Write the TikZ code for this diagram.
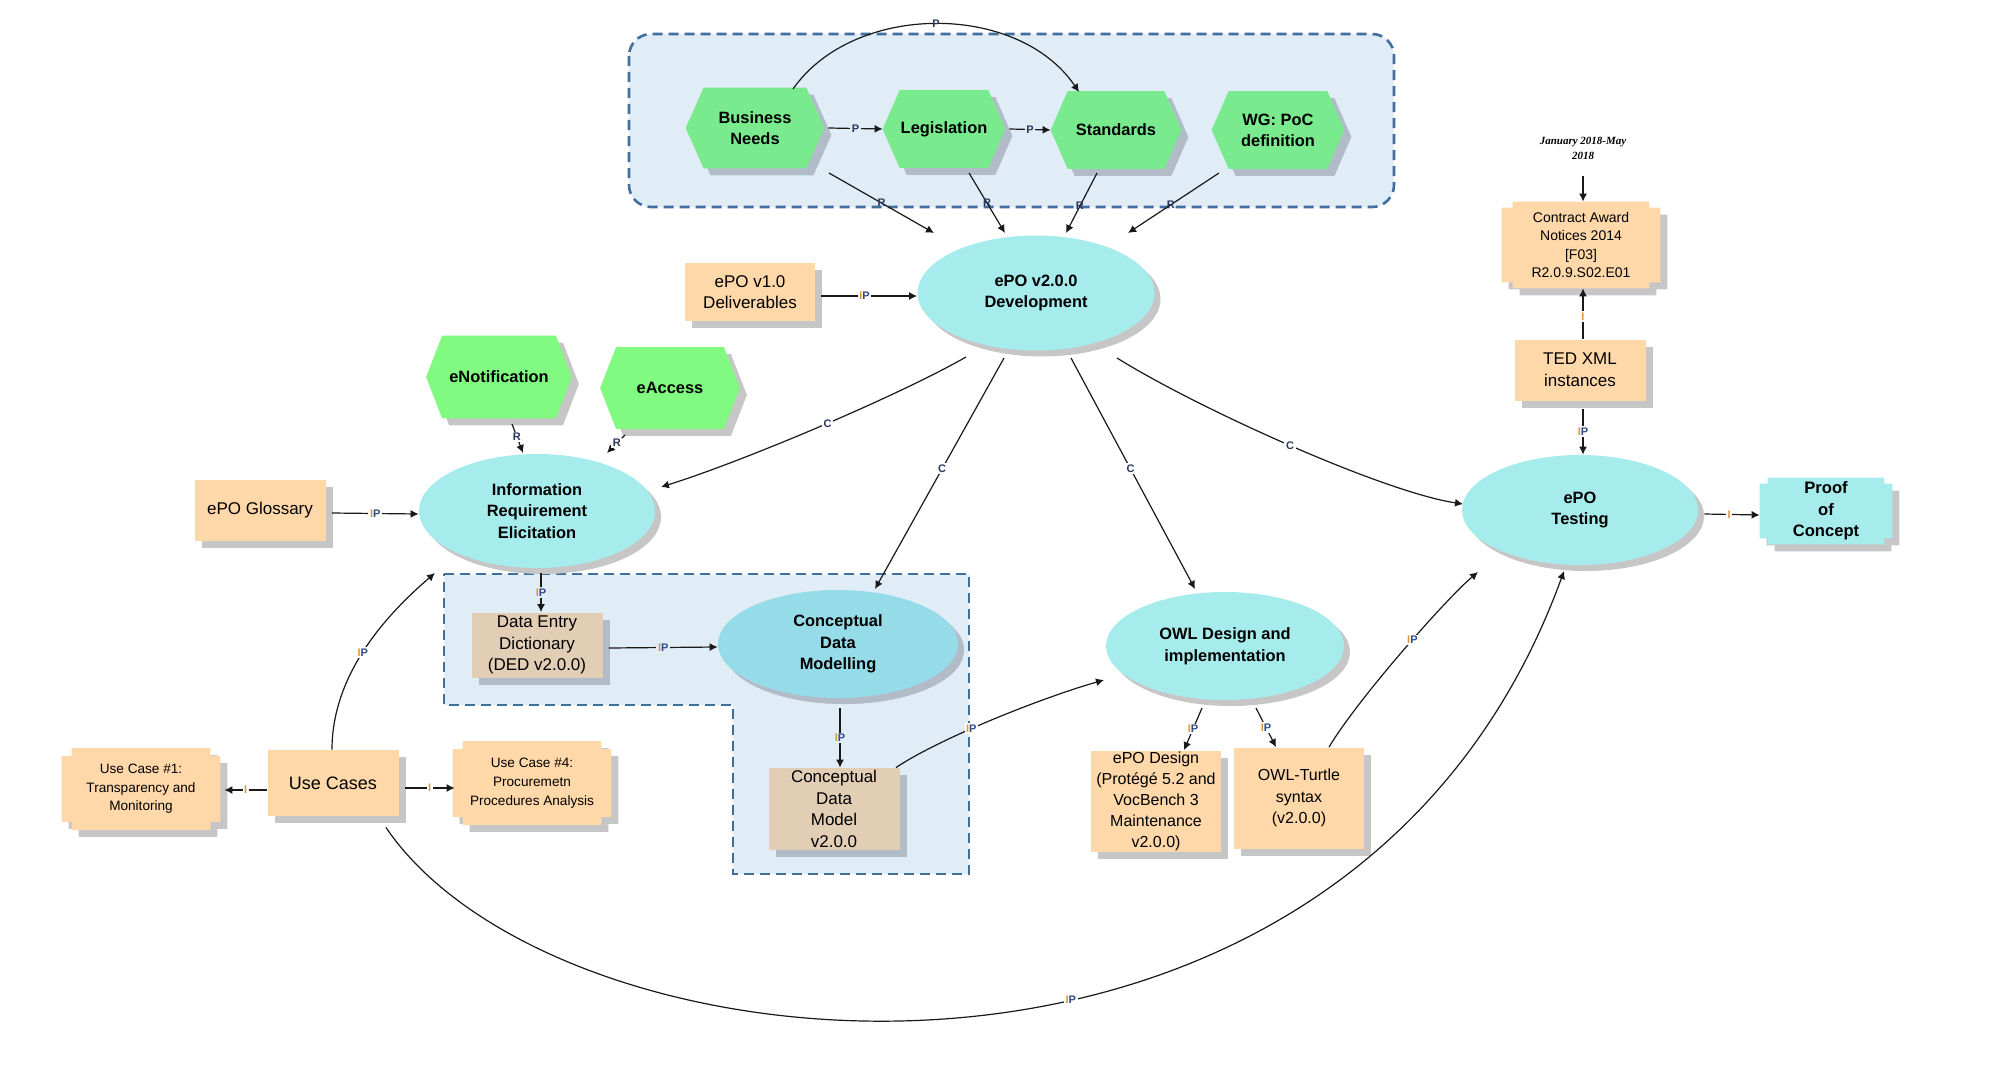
\documentclass[tikz,border=0pt]{standalone}
\usepackage{fontspec}
\setmainfont{Liberation Sans}
\newfontfamily\serifface{Liberation Serif}
\usetikzlibrary{calc,shapes.geometric,shadows,arrows.meta}
\pgfdeclarelayer{regionlayer}
\pgfdeclarelayer{shapelayer}
\pgfsetlayers{regionlayer,shapelayer,main}

\definecolor{hexgreen}{RGB}{122,234,142}
\definecolor{hexgreenB}{RGB}{128,250,128}
\definecolor{cyanfill}{RGB}{166,236,236}
\definecolor{cyandark}{RGB}{150,220,232}
\definecolor{peach}{RGB}{255,216,170}
\definecolor{tanfill}{RGB}{226,206,180}
\definecolor{regionfill}{RGB}{224,237,247}
\definecolor{regionline}{RGB}{66,110,158}
\definecolor{shgray}{RGB}{198,198,198}
\definecolor{shblue}{RGB}{178,188,200}
\definecolor{lblI}{RGB}{225,150,60}
\definecolor{lblP}{RGB}{45,75,135}
\definecolor{lbldark}{RGB}{40,55,90}
\definecolor{linecol}{RGB}{25,25,25}

\newcommand\IPlbl{\textcolor{lblI}{I}\textcolor{lblP}{P}}

% hexagon fill: name, colour, dx, dy, tip
\newcommand\hexfill[5]{%
  \fill[#2] let \p1=(#1.north west), \p2=(#1.south east), \p3=(#1.west), \p4=(#1.east) in
   ({\x1+#5+(#3)},{\y1+(#4)}) -- ({\x2-#5+(#3)},{\y1+(#4)}) -- ({\x4+(#3)},{\y4+(#4)}) --
   ({\x2-#5+(#3)},{\y2+(#4)}) -- ({\x1+#5+(#3)},{\y2+(#4)}) -- ({\x3+(#3)},{\y3+(#4)}) -- cycle;}
% notched box fill: name, colour, dx, dy, a, b
\newcommand\notchfill[6]{%
  \fill[#2] let \p1=(#1.north west), \p2=(#1.south east) in
   ({\x1+#5+(#3)},{\y1+(#4)}) -- ({\x2-#5+(#3)},{\y1+(#4)}) -- ({\x2-#5+(#3)},{\y1-#6+(#4)}) --
   ({\x2+(#3)},{\y1-#6+(#4)}) -- ({\x2+(#3)},{\y2+#6+(#4)}) -- ({\x2-#5+(#3)},{\y2+#6+(#4)}) --
   ({\x2-#5+(#3)},{\y2+(#4)}) -- ({\x1+#5+(#3)},{\y2+(#4)}) -- ({\x1+#5+(#3)},{\y2+#6+(#4)}) --
   ({\x1+(#3)},{\y2+#6+(#4)}) -- ({\x1+(#3)},{\y1-#6+(#4)}) -- ({\x1+#5+(#3)},{\y1-#6+(#4)}) -- cycle;}

\tikzset{
  hexnode/.style={rectangle, inner sep=0pt, align=center, font=\fontsize{8.2}{10.4}\selectfont\bfseries},
  ellnode/.style={ellipse, fill=cyanfill, inner sep=0pt, align=center,
     font=\fontsize{8.2}{10.8}\selectfont\bfseries,
     drop shadow={shadow xshift=3pt, shadow yshift=-3pt, fill=shgray, opacity=1}},
  boxnode/.style={rectangle, fill=peach, inner sep=0pt, align=center,
     font=\fontsize{8.5}{10.8}\selectfont,
     drop shadow={shadow xshift=3.5pt, shadow yshift=-3.5pt, fill=shgray, opacity=1}},
  tanbox/.style={boxnode, fill=tanfill,
     drop shadow={shadow xshift=3.5pt, shadow yshift=-3.5pt, fill=shblue, opacity=1}},
  notchnode/.style={rectangle, inner sep=0pt, align=center},
  conn/.style={draw=linecol, line width=0.6pt, -{Latex[length=4pt,width=4pt]}},
  lbl/.style={font=\fontsize{5.5}{5.5}\selectfont\bfseries, text=lbldark, inner sep=0.8pt, fill=white},
  rlbl/.style={lbl, fill=regionfill},
  nlbl/.style={lbl, fill=none},
  region/.style={draw=regionline, fill=regionfill, line width=1.3pt, dash pattern=on 5pt off 3pt},
}

\begin{document}
\begin{tikzpicture}[x=0.5pt,y=-0.5pt]
\useasboundingbox (0,0) rectangle (2000,1065);

% regions
\begin{pgfonlayer}{regionlayer}
  \draw[region, rounded corners=11pt] (629,34) rectangle (1394,207);
  \draw[region] (444,574) -- (969,574) -- (969,874) -- (733,874) -- (733,705) -- (444,705) -- cycle;
\end{pgfonlayer}

% hexagon nodes
\node[hexnode, minimum width=69pt, minimum height=40pt] (bn) at (755,128) {Business\\Needs};
\node[hexnode, minimum width=61pt, minimum height=38.5pt] (leg) at (944,129) {Legislation};
\node[hexnode, minimum width=65pt, minimum height=38.5pt] (std) at (1116,130) {Standards};
\node[hexnode, minimum width=66pt, minimum height=38.5pt] (wg) at (1278,130) {WG: PoC\\definition};
\node[hexnode, minimum width=72.5pt, minimum height=41pt] (enot) at (499,377) {eNotification};
\node[hexnode, minimum width=69.5pt, minimum height=40.5pt] (eacc) at (670,388) {eAccess};

% ellipses
\node[ellnode, minimum width=118.5pt, minimum height=57.5pt] (dev) at (1036,293) {ePO v2.0.0\\Development};
\node[ellnode, minimum width=118pt, minimum height=57pt] (ire) at (537,511) {Information\\Requirement\\Elicitation};
\node[ellnode, fill=cyandark, minimum width=120pt, minimum height=54pt,
      drop shadow={shadow xshift=3pt, shadow yshift=-3pt, fill=shblue, opacity=1}] (cdm) at (838,644) {Conceptual\\Data\\Modelling};
\node[ellnode, minimum width=119pt, minimum height=54pt] (owl) at (1225,646) {OWL Design and\\implementation};
\node[ellnode, minimum width=118pt, minimum height=55pt] (test) at (1580,510) {ePO\\Testing};

% boxes
\node[boxnode, minimum width=65pt, minimum height=29pt] (deliv) at (750,292) {ePO v1.0\\Deliverables};
\node[boxnode, minimum width=65.5pt, minimum height=30.5pt] (gloss) at (260,510) {ePO Glossary};
\node[tanbox, minimum width=65.5pt, minimum height=32.5pt] (ded) at (537,645) {Data Entry\\Dictionary\\(DED v2.0.0)};
\node[tanbox, minimum width=65.5pt, minimum height=41pt] (cdmodel) at (834,809) {Conceptual\\Data\\Model\\v2.0.0};
\node[boxnode, minimum width=65pt, minimum height=50.5pt, font=\fontsize{8}{10.5}\selectfont] (epodes) at (1156,801) {ePO Design\\(Protégé 5.2 and\\VocBench 3\\Maintenance\\v2.0.0)};
\node[boxnode, minimum width=65pt, minimum height=50.5pt, font=\fontsize{8}{10.7}\selectfont] (turtle) at (1299,798) {OWL-Turtle\\syntax\\(v2.0.0)};
\node[boxnode, minimum width=65.5pt, minimum height=30.5pt] (ted) at (1580,370) {TED XML\\instances};
\node[boxnode, minimum width=65.5pt, minimum height=33pt, font=\fontsize{9}{11}\selectfont] (uc) at (333,783) {Use Cases};

% notched boxes
\node[notchnode, minimum width=79pt, minimum height=43pt, font=\fontsize{7}{9.2}\selectfont] (contract) at (1581,245) {Contract Award\\Notices 2014\\{[F03]}\\R2.0.9.S02.E01};
\node[notchnode, minimum width=66pt, minimum height=33pt, font=\fontsize{8.3}{10.8}\selectfont\bfseries] (proof) at (1826,511) {Proof\\of\\Concept};
\node[notchnode, minimum width=79pt, minimum height=40.5pt, font=\fontsize{6.8}{9.2}\selectfont] (uc1) at (141,789) {Use Case \#1:\\Transparency and\\Monitoring};
\node[notchnode, minimum width=79pt, minimum height=41.5pt, font=\fontsize{6.8}{9.4}\selectfont] (uc4) at (532,783) {Use Case \#4:\\Procuremetn\\Procedures Analysis};

\node[inner sep=0pt, align=center, font=\fontsize{5.5}{7.5}\selectfont\serifface\itshape\bfseries] (jan) at (1583,148) {January 2018-May\\2018};

% drawn shapes
\begin{pgfonlayer}{shapelayer}
  \hexfill{bn}{shblue}{3.5pt}{-3.5pt}{9pt}
  \hexfill{bn}{hexgreen}{0pt}{0pt}{9pt}
  \hexfill{leg}{shblue}{3.5pt}{-3.5pt}{8.5pt}
  \hexfill{leg}{hexgreen}{0pt}{0pt}{8.5pt}
  \hexfill{std}{shblue}{3.5pt}{-3.5pt}{8.5pt}
  \hexfill{std}{hexgreen}{0pt}{0pt}{8.5pt}
  \hexfill{wg}{shblue}{3.5pt}{-3.5pt}{8.5pt}
  \hexfill{wg}{hexgreen}{0pt}{0pt}{8.5pt}
  \hexfill{enot}{shgray}{3.5pt}{-3.5pt}{8pt}
  \hexfill{enot}{hexgreenB}{0pt}{0pt}{8pt}
  \hexfill{eacc}{shgray}{3.5pt}{-3.5pt}{8pt}
  \hexfill{eacc}{hexgreenB}{0pt}{0pt}{8pt}
  \notchfill{contract}{shgray}{3.5pt}{-3.5pt}{5.5pt}{3pt}
  \notchfill{contract}{peach}{0pt}{0pt}{5.5pt}{3pt}
  \notchfill{proof}{shgray}{3.5pt}{-3.5pt}{4pt}{3pt}
  \notchfill{proof}{cyanfill}{0pt}{0pt}{4pt}{3pt}
  \notchfill{uc1}{shgray}{3.5pt}{-3.5pt}{5pt}{4pt}
  \notchfill{uc1}{peach}{0pt}{0pt}{5pt}{4pt}
  \notchfill{uc4}{shgray}{3.5pt}{-3.5pt}{5pt}{4pt}
  \notchfill{uc4}{peach}{0pt}{0pt}{5pt}{4pt}
\end{pgfonlayer}

% connectors: top group
\draw[conn] ($(bn.east)+(4,0)$) -- node[rlbl]{P} (leg.west);
\draw[conn] ($(leg.east)+(4,0)$) -- node[rlbl]{P} (std.west);
\draw[conn] ($(bn.center)+(38,-39)$) .. controls +(61,-87) and +(-61,-90) .. node[lbl,fill=none,pos=0.5]{P} ($(std.center)+(-37,-38)$);
\draw[conn] ($(bn.center)+(74,45)$) -- node[nlbl,pos=0.5]{R} ($(dev.center)+(-102,-60)$);
\draw[conn] ($(leg.center)+(25,44)$) -- node[nlbl,pos=0.5]{R} ($(dev.center)+(-31,-60)$);
\draw[conn] ($(std.center)+(-19,43)$) -- node[nlbl,pos=0.55]{R} ($(dev.center)+(30,-60)$);
\draw[conn] ($(wg.center)+(-59,43)$) -- node[nlbl,pos=0.53]{R} ($(dev.center)+(92,-60)$);
\draw[conn] ($(deliv.east)+(6,4)$) -- node[lbl,pos=0.45]{\IPlbl} ($(dev.west)+(0,3)$);

% development outputs
\draw[conn] ($(dev.center)+(-70,64)$) .. controls +(-70,40) and +(80,-25) .. node[lbl,pos=0.47]{C} ($(ire.center)+(124,-24)$);
\draw[conn] ($(dev.center)+(-32,65)$) -- node[lbl,pos=0.48]{C} ($(cdm.center)+(37,-55)$);
\draw[conn] ($(dev.center)+(35,65)$) -- node[lbl,pos=0.48]{C} ($(owl.center)+(-30,-57)$);
\draw[conn] ($(dev.center)+(81,65)$) .. controls +(80,50) and +(-80,-12) .. node[lbl,pos=0.5]{C} ($(test.center)+(-117,-6)$);

% requirement elicitation
\draw[conn] ($(enot.center)+(13,47)$) -- node[lbl,pos=0.45]{R} ($(ire.center)+(-14,-58)$);
\draw[conn] ($(eacc.center)+(-45,47)$) -- node[lbl,pos=0.45]{R} ($(ire.center)+(70,-58)$);
\draw[conn] ($(gloss.east)+(6,3)$) -- node[lbl,pos=0.5]{\IPlbl} ($(ire.west)+(0,3)$);
\draw[conn] ($(ire.south)+(4,5)$) -- node[rlbl,pos=0.5]{\IPlbl} ($(ded.north)+(4,0)$);
\draw[conn] ($(ded.east)+(6,3)$) -- node[rlbl,pos=0.5]{\IPlbl} ($(cdm.west)+(0,3)$);
\draw[conn] ($(cdm.south)+(2,10)$) -- node[rlbl,pos=0.5]{\IPlbl} ($(cdmodel.north)+(6,0)$);
\draw[conn] ($(cdmodel.north east)+(-4,0)$) .. controls +(45,-30) and +(-60,17) .. node[lbl,pos=0.4]{\IPlbl} ($(owl.center)+(-121,34)$);

% OWL outputs
\draw[conn] ($(owl.center)+(-23,62)$) -- node[lbl,pos=0.5]{\IPlbl} ($(epodes.north)+(28,0)$);
\draw[conn] ($(owl.center)+(31,62)$) -- node[lbl,pos=0.5]{\IPlbl} ($(turtle.north)+(-23,0)$);
\draw[conn] ($(turtle.north)+(30,0)$) .. controls +(30,-50) and +(-30,25) .. node[lbl,pos=0.55]{\IPlbl} ($(test.center)+(-102,62)$);

% use cases
\draw[conn] ($(uc.north)+(-1,0)$) .. controls +(0,-71) and +(-55,47) .. node[lbl,pos=0.5]{\IPlbl} ($(ire.center)+(-102,62)$);
\draw[conn] ($(uc.west)+(0,7)$) -- node[lbl,pos=0.5,text=lblI]{I} ($(uc1.east)+(4,1)$);
\draw[conn] ($(uc.east)+(6,5)$) -- node[lbl,pos=0.5,text=lblI]{I} ($(uc4.west)+(2,5)$);
\draw[conn] ($(uc.south east)+(-13,11)$) .. controls +(175,258) and +(-214,589) .. node[lbl,pos=0.575]{\IPlbl} ($(test.center)+(-16,61)$);

% testing
\draw[conn] ($(jan.center)+(0,28)$) -- ($(contract.north)+(2,0)$);
\draw[conn] ($(ted.north)+(3,0)$) -- node[lbl,pos=0.45,text=lblI]{I} ($(contract.south)+(2,0)$);
\draw[conn] ($(ted.south)+(3,8)$) -- node[lbl,pos=0.5]{\IPlbl} ($(test.north)+(3,0)$);
\draw[conn] ($(test.east)+(6,4)$) -- node[lbl,pos=0.45,text=lblI]{I} ($(proof.west)+(0,4)$);
\end{tikzpicture}
\end{document}
